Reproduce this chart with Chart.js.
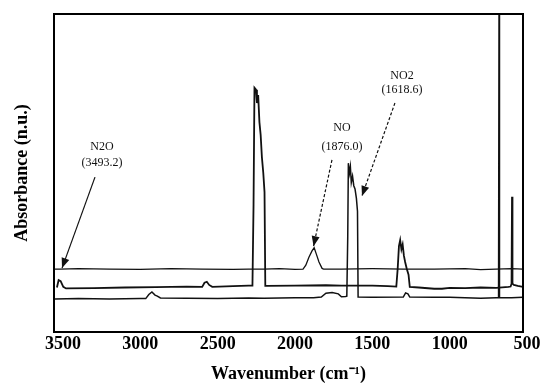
<!DOCTYPE html>
<html>
<head>
<meta charset="utf-8">
<script src="https://cdn.jsdelivr.net/npm/chart.js@4.4.0/dist/chart.umd.min.js"></script>
<style>
  html, body { margin: 0; padding: 0; background: #fff; }
</style>
</head>
<body>
<canvas id="spectrum" width="540" height="385"></canvas>
<script>
// FTIR spectra, three traces stacked: [wavenumber, absorbance]
const topTrace = [
  [3552, 19.8], [3520, 19.8], [3400, 19.9], [3200, 19.8], [3000, 19.7], [2800, 19.9],
  [2600, 19.8], [2400, 19.7], [2300, 19.8], [2200, 19.8], [2100, 19.9], [2000, 19.7],
  [1948, 19.8], [1930, 21.0], [1910, 23.5], [1890, 25.5], [1876, 26.5], [1862, 24.5],
  [1845, 22.0], [1825, 20.0], [1815, 19.8], [1700, 19.8], [1500, 19.9], [1300, 19.8],
  [1100, 19.8], [900, 19.9], [800, 19.6], [700, 19.8], [600, 19.9], [526, 19.8]
];

const middleTrace = [
  [3539, 14.0], [3528, 16.3], [3515, 16.0], [3498, 14.2], [3480, 13.7], [3300, 13.8],
  [3100, 14.0], [2900, 14.1], [2700, 14.3], [2600, 14.2], [2585, 15.5], [2570, 15.8],
  [2555, 14.8], [2535, 14.2], [2400, 14.4], [2300, 14.6], [2275, 14.6], [2268, 40.0],
  [2262, 76.8], [2252, 76.2], [2246, 72.0], [2238, 74.5], [2230, 66.0], [2222, 62.0],
  [2214, 55.0], [2205, 50.0], [2197, 44.0], [2192, 14.5], [2180, 14.5], [2000, 14.6],
  [1800, 14.7], [1700, 14.6], [1500, 14.6], [1400, 14.4], [1345, 14.3], [1336, 20.0],
  [1328, 27.0], [1320, 28.9], [1312, 26.0], [1304, 27.5], [1296, 24.0], [1288, 22.0],
  [1278, 20.0], [1266, 18.0], [1258, 14.2], [1200, 14.0], [1100, 13.6], [1050, 13.6],
  [1000, 13.9], [900, 13.8], [800, 14.0], [700, 13.9], [620, 14.2], [606, 14.3],
  [600, 15.2], [597, 42.5], [594, 15.2], [585, 14.8], [560, 14.5], [526, 14.2]
];

const bottomTrace = [
  [3552, 10.4], [3400, 10.5], [3200, 10.4], [3000, 10.5], [2965, 10.5], [2945, 11.8],
  [2925, 12.6], [2905, 11.6], [2890, 11.3], [2870, 10.7], [2700, 10.6], [2500, 10.5],
  [2300, 10.7], [2200, 10.6], [2000, 10.8], [1880, 10.8], [1830, 11.0], [1800, 12.2],
  [1760, 12.4], [1720, 12.0], [1700, 11.1], [1672, 11.2], [1665, 11.3], [1659, 30.0],
  [1655, 53.1], [1648, 50.0], [1642, 52.0], [1636, 47.0], [1628, 49.0], [1620, 46.0],
  [1612, 45.0], [1603, 42.0], [1596, 38.0], [1592, 11.0], [1500, 10.9], [1300, 11.0],
  [1285, 12.3], [1270, 12.0], [1258, 11.0], [1100, 10.9], [1000, 10.9], [900, 10.8],
  [800, 10.6], [700, 10.8], [684, 10.8], [681, 100], [678, 10.8], [600, 10.8], [526, 10.9]
];

const xTicks = [3500, 3000, 2500, 2000, 1500, 1000, 500];

// peak callouts
const calloutNames = ['N2O', 'NO', 'NO2'];
const calloutBands = ['(3493.2)', '(1876.0)', '(1618.6)'];

// where each callout sits, in data units
const calloutLayout = [
  { name: [3248, 58.2], band: [3248, 53.1], from: [3293, 48.7], to: [3506, 20.1], dash: [] },
  { name: [1696, 64.2], band: [1696, 58.2], from: [1761, 54.1], to: [1880, 27.0], dash: [3, 2] },
  { name: [1308, 80.5], band: [1308, 76.1], from: [1354, 72.0], to: [1567, 42.8], dash: [3, 2] }
];

const toPoints = rows => rows.map(r => ({ x: r[0], y: r[1] }));

const framePlugin = {
  id: 'frame',
  afterDraw(chart) {
    const { ctx, chartArea: a } = chart;
    ctx.save();
    ctx.strokeStyle = '#000';
    ctx.lineWidth = 2;
    ctx.strokeRect(a.left, a.top, a.right - a.left, a.bottom - a.top);
    ctx.restore();
  }
};

const calloutPlugin = {
  id: 'callouts',
  afterDatasetsDraw(chart) {
    const { ctx } = chart;
    const sx = chart.scales.x, sy = chart.scales.y;
    const px = p => [sx.getPixelForValue(p[0]), sy.getPixelForValue(p[1])];

    calloutLayout.forEach((c, i) => {
      ctx.save();
      ctx.fillStyle = '#111';
      ctx.strokeStyle = '#111';
      ctx.font = '12px "Liberation Serif"';
      ctx.textAlign = 'center';
      ctx.textBaseline = 'middle';
      let p = px(c.name);
      ctx.fillText(calloutNames[i], p[0], p[1]);
      p = px(c.band);
      ctx.fillText(calloutBands[i], p[0], p[1]);

      // arrow shaft
      const a = px(c.from), b = px(c.to);
      ctx.lineWidth = 1.2;
      ctx.setLineDash(c.dash);
      ctx.beginPath();
      ctx.moveTo(a[0], a[1]);
      ctx.lineTo(b[0], b[1]);
      ctx.stroke();

      // arrow head
      ctx.setLineDash([]);
      const ang = Math.atan2(b[1] - a[1], b[0] - a[0]);
      const len = 10, half = 4;
      ctx.beginPath();
      ctx.moveTo(b[0], b[1]);
      ctx.lineTo(b[0] - len * Math.cos(ang) + half * Math.sin(ang), b[1] - len * Math.sin(ang) - half * Math.cos(ang));
      ctx.lineTo(b[0] - len * Math.cos(ang) - half * Math.sin(ang), b[1] - len * Math.sin(ang) + half * Math.cos(ang));
      ctx.closePath();
      ctx.fill();
      ctx.restore();
    });
  }
};

const traceStyle = (width) => ({
  borderColor: '#111',
  borderWidth: width,
  pointRadius: 0,
  tension: 0,
  fill: false
});

new Chart(document.getElementById('spectrum'), {
  type: 'line',
  data: {
    datasets: [
      { label: 'top', data: toPoints(topTrace), ...traceStyle(1.3) },
      { label: 'middle', data: toPoints(middleTrace), ...traceStyle(1.8) },
      { label: 'bottom', data: toPoints(bottomTrace), ...traceStyle(1.5) }
    ]
  },
  options: {
    responsive: false,
    animation: false,
    layout: { padding: { top: 14, right: 17, left: 0, bottom: 0 } },
    plugins: {
      legend: { display: false },
      tooltip: { enabled: false }
    },
    scales: {
      x: {
        type: 'linear',
        reverse: true,
        min: 526,
        max: 3558,
        grid: { display: false, drawTicks: false },
        border: { display: false },
        afterBuildTicks: scale => {
          scale.ticks = xTicks.map(v => ({ value: v }));
        },
        afterFit: scale => {
          scale.height = 53;
          scale.paddingLeft = 0;
          scale.paddingRight = 0;
        },
        ticks: {
          autoSkip: false,
          maxRotation: 0,
          padding: 2,
          color: '#000',
          font: { family: 'Liberation Serif', size: 18, weight: 'bold' },
          callback: v => String(v)
        },
        title: {
          display: true,
          text: 'Wavenumber (cm\u207B\u00B9)',
          color: '#000',
          padding: 0,
          font: { family: 'Liberation Serif', size: 18, weight: 'bold' }
        }
      },
      y: {
        min: 0,
        max: 100,
        grid: { display: false, drawTicks: false },
        border: { display: false },
        ticks: { display: false },
        afterFit: scale => { scale.width = 54; },
        title: {
          display: true,
          text: 'Absorbance (n.u.)',
          color: '#000',
          padding: { top: 12, bottom: 0 },
          font: { family: 'Liberation Serif', size: 18, weight: 'bold' }
        }
      }
    }
  },
  plugins: [framePlugin, calloutPlugin]
});
</script>
</body>
</html>
